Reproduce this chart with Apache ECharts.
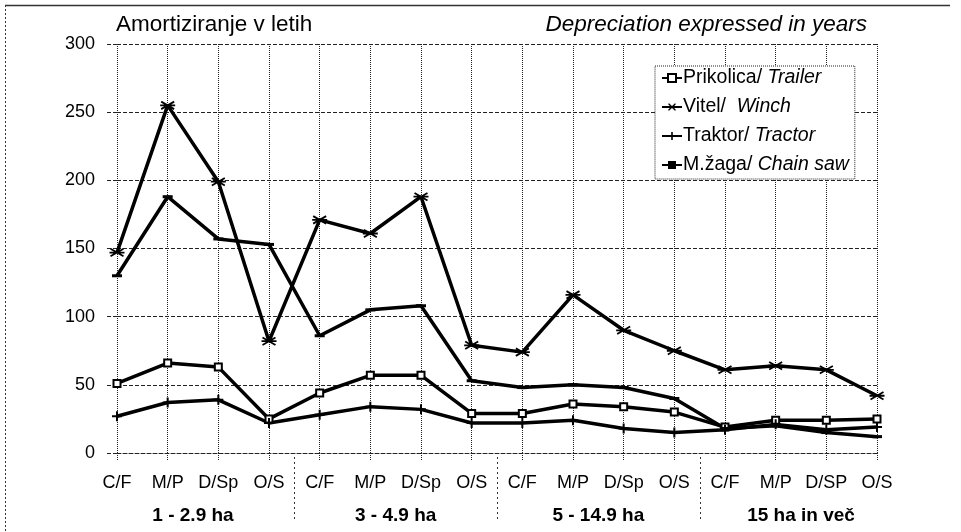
<!DOCTYPE html>
<html>
<head>
<meta charset="utf-8">
<script src="https://cdn.jsdelivr.net/npm/echarts@6/dist/echarts.min.js"></script>
<style>
html, body { margin: 0; padding: 0; background: #fff; }
#main { width: 961px; height: 532px; }
</style>
</head>
<body>
<div id="main"></div>
<script>
// 数据
var categories = ['C/F', 'M/P', 'D/Sp', 'O/S',
    'C/F', 'M/P', 'D/Sp', 'O/S',
    'C/F', 'M/P', 'D/Sp', 'O/S',
    'C/F', 'M/P', 'D/SP', 'O/S'];
var groups = ['1 - 2.9 ha', '3 - 4.9 ha', '5 - 14.9 ha', '15 ha in več'];
var yTicks = [0, 50, 100, 150, 200, 250, 300];

var prikolica = [51, 66, 63, 25, 44, 57, 57, 29, 29, 36, 34, 30, 19, 24, 24, 25];
var vitel = [147, 255, 199, 82, 171, 161, 188, 79, 74, 116, 90, 75, 61, 64, 61, 42];
var traktor = [27, 37, 39, 22, 28, 34, 32, 22, 22, 24, 18, 15, 17, 21, 17, 19];
var zaga = [130, 188, 157, 153, 86, 105, 108, 53, 48, 50, 48, 40, 18, 20, 15, 12];

var seriesNames = ['Prikolica/ Trailer', 'Vitel/  Winch', 'Traktor/ Tractor', 'M.žaga/ Chain saw'];

var FONT = "'Liberation Sans', Arial, sans-serif";

// 标记形状
var starPath = 'path://M-1.2,-10L1.2,-10L1.2,10L-1.2,10Z' +
    'M6.04,8.06L3.96,9.26L-6.04,-8.06L-3.96,-9.26Z' +
    'M3.96,-9.26L6.04,-8.06L-3.96,9.26L-6.04,8.06Z';
var plusPath = 'path://M-1,-5L1,-5L1,-1L5,-1L5,1L1,1L1,5L-1,5L-1,1L-5,1L-5,-1L-1,-1Z';

var myChart = echarts.init(document.getElementById('main'));

// 组标签位置(类目序号)
var groupCenters = groups.map(function (g, i) { return i * 4 + 1.5; });

function lineSeries(name, data, symbol, size, extra) {
    var s = {
        name: name,
        type: 'line',
        data: data,
        symbol: symbol,
        symbolSize: size,
        showSymbol: true,
        lineStyle: { color: '#000', width: 3.5 },
        itemStyle: { color: '#000' },
        animation: false
    };
    for (var k in extra) s[k] = extra[k];
    return s;
}

var option = {
    backgroundColor: '#fff',
    animation: false,
    title: [{
        text: 'Amortiziranje v letih',
        left: 116,
        top: 13,
        padding: 0,
        textStyle: { fontFamily: FONT, fontSize: 22.5, fontWeight: 'normal', color: '#000' }
    }, {
        text: 'Depreciation expressed in years',
        right: 94,
        top: 13,
        padding: 0,
        textStyle: { fontFamily: FONT, fontSize: 22.5, fontWeight: 'normal', fontStyle: 'italic', color: '#000' }
    }],
    legend: {
        left: 655,
        top: 66,
        orient: 'vertical',
        selectedMode: false,
        backgroundColor: '#fff',
        borderColor: '#222',
        borderWidth: 1,
        borderType: 'dotted',
        padding: [2, 6, 4, 6],
        itemGap: 9,
        itemWidth: 20,
        itemHeight: 10,
        data: seriesNames,
        formatter: function (name) {
            var p = name.split('/');
            return '{n|' + p[0] + '/}{i|' + p[1] + '}';
        },
        textStyle: {
            fontFamily: FONT,
            fontSize: 19.5,
            color: '#000',
            padding: [0, 0, 0, -4],
            rich: {
                n: { fontFamily: FONT, fontSize: 19.5, color: '#000' },
                i: { fontFamily: FONT, fontSize: 19.5, color: '#000', fontStyle: 'italic' }
            }
        }
    },
    grid: {
        left: 117,
        right: 84,
        top: 44,
        bottom: 79
    },
    xAxis: [{
        type: 'category',
        data: categories,
        boundaryGap: false,
        axisLine: { show: true, lineStyle: { color: '#222', width: 1, type: 'dashed' } },
        axisTick: { show: true, interval: 0, length: 8, lineStyle: { color: '#222', type: 'dotted' } },
        axisLabel: { interval: 0, margin: 21, fontFamily: FONT, fontSize: 18, color: '#000' },
        splitLine: { show: true, interval: 0, lineStyle: { color: '#222', width: 1, type: 'dotted' } }
    }, {
        type: 'value',
        position: 'bottom',
        min: 0,
        max: categories.length - 1,
        interval: 0.5,
        axisLine: { show: false },
        axisTick: { show: false },
        splitLine: { show: false },
        axisLabel: {
            margin: 53,
            fontFamily: FONT,
            fontSize: 19,
            fontWeight: 'bold',
            color: '#000',
            showMinLabel: true,
            showMaxLabel: true,
            formatter: function (v) {
                var i = groupCenters.indexOf(v);
                return i >= 0 ? groups[i] : '';
            }
        }
    }],
    yAxis: {
        type: 'value',
        min: yTicks[0],
        max: yTicks[yTicks.length - 1],
        interval: 50,
        axisLine: { show: false },
        axisTick: { show: true, length: 10, lineStyle: { color: '#222', type: 'dashed' } },
        axisLabel: { margin: 22, fontFamily: FONT, fontSize: 18, color: '#000' },
        splitLine: { show: true, lineStyle: { color: '#222', width: 1, type: 'dashed' } }
    },
    series: [
        lineSeries(seriesNames[0], prikolica, 'emptyRect', 7, { itemStyle: { color: '#000', borderColor: '#000', borderWidth: 1.5 } }),
        lineSeries(seriesNames[1], vitel, starPath, 15, { symbolRotate: 90, symbolKeepAspect: true }),
        lineSeries(seriesNames[2], traktor, plusPath, 10, {}),
        lineSeries(seriesNames[3], zaga, 'rect', [10, 3], {})
    ]
};

myChart.setOption(option);

// 分组分隔线 + 外框
var y0 = myChart.convertToPixel({ yAxisIndex: 0 }, 0);
var graphics = [];
for (var g = 1; g < groups.length; g++) {
    var a = myChart.convertToPixel({ xAxisIndex: 0 }, g * 4 - 1);
    var b = myChart.convertToPixel({ xAxisIndex: 0 }, g * 4);
    var x = Math.round((a + b) / 2) + 0.5;
    graphics.push({
        type: 'line',
        shape: { x1: x, y1: y0 + 4, x2: x, y2: y0 + 68 },
        style: { stroke: '#333', lineWidth: 1, lineDash: [2, 3] },
        silent: true
    });
}
graphics.push({
    type: 'line',
    shape: { x1: 5, y1: 5.5, x2: 950, y2: 5.5 },
    style: { stroke: '#333', lineWidth: 1.5 },
    silent: true
});
graphics.push({
    type: 'line',
    shape: { x1: 5.5, y1: 5, x2: 5.5, y2: 532 },
    style: { stroke: '#333', lineWidth: 1, lineDash: [2, 2] },
    silent: true
});
myChart.setOption({ graphic: graphics });
</script>
</body>
</html>
